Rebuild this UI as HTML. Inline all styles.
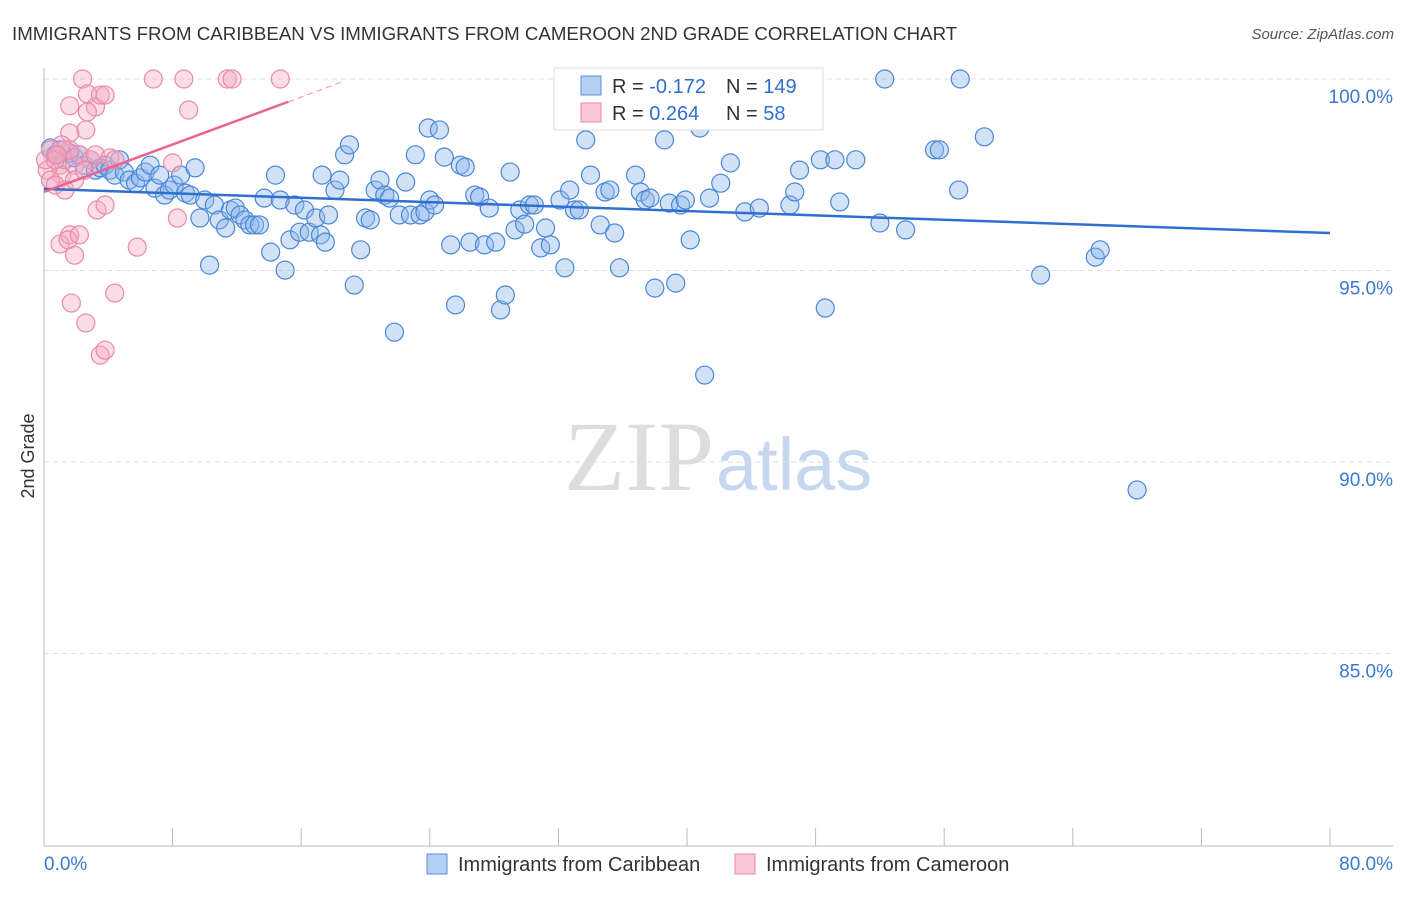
<!DOCTYPE html>
<html><head><meta charset="utf-8"><style>
body{margin:0;background:#fff;font-family:"Liberation Sans",sans-serif}
</style></head><body>
<svg id="c" width="1406" height="892" xmlns="http://www.w3.org/2000/svg" font-family="Liberation Sans, sans-serif">
<text x="12" y="40" font-size="18.7" fill="#333">IMMIGRANTS FROM CARIBBEAN VS IMMIGRANTS FROM CAMEROON 2ND GRADE CORRELATION CHART</text>
<text x="1394" y="39" font-size="15" fill="#555" text-anchor="end" font-style="italic">Source: ZipAtlas.com</text>
<text x="714" y="490" font-size="100" fill="#ddd" text-anchor="end" font-family="Liberation Serif, serif">ZIP</text>
<text x="716" y="490" font-size="74" fill="#c5d8ef">atlas</text>
<text transform="translate(34,456) rotate(-90)" font-size="18" fill="#333" text-anchor="middle">2nd Grade</text>
<g id="grid"></g><g id="axes"></g><g id="pts"></g><g id="trend"></g>
<g>
<rect x="554" y="68" width="269" height="62" fill="#fff" stroke="#ddd"/>
<rect x="581" y="76" width="20" height="19" fill="#b3cff2" stroke="#5a8fd8"/>
<rect x="581" y="103" width="20" height="19" fill="#f8c6d6" stroke="#e98aa8"/>
<text x="612" y="93" font-size="20" fill="#333">R = <tspan fill="#2f6fd0">-0.172</tspan><tspan x="726">N = </tspan><tspan fill="#2f6fd0">149</tspan></text>
<text x="612" y="120" font-size="20" fill="#333">R = <tspan fill="#2f6fd0"> 0.264</tspan><tspan x="726">N = </tspan><tspan fill="#2f6fd0">58</tspan></text>
</g>
<g>
<rect x="427" y="854" width="20" height="20" fill="#b3cff2" stroke="#5a8fd8"/>
<text x="458" y="871" font-size="20" fill="#333">Immigrants from Caribbean</text>
<rect x="735" y="854" width="20" height="20" fill="#f8c6d6" stroke="#e98aa8"/>
<text x="766" y="871" font-size="20" fill="#333">Immigrants from Cameroon</text>
</g>
</svg>
<script>
const yTicks=[100,95,90,85];
const xTickLabels=["0.0%","80.0%"];
const blueX=[0.4,0.7,1.0,1.3,1.6,1.9,2.2,2.5,2.9,3.2,3.5,3.8,4.1,4.4,4.7,5.0,5.3,5.7,6.0,6.3,6.6,6.9,7.2,7.5,7.8,8.1,8.5,8.8,9.1,9.4,9.7,10.0,10.3,10.6,10.9,11.3,11.6,11.9,12.2,12.5,12.8,13.1,13.4,13.7,14.1,14.4,14.7,15.0,15.3,15.6,15.9,16.2,16.5,16.9,17.2,17.3,17.5,17.7,18.1,18.4,18.7,19.0,19.3,19.7,20.0,20.3,20.6,20.9,21.2,21.5,21.8,22.1,22.5,22.8,23.1,23.4,23.7,23.9,24.0,24.3,24.6,24.9,25.3,25.6,25.9,26.2,26.5,26.8,27.1,27.4,27.7,28.1,28.4,28.7,29.0,29.3,29.6,29.9,30.2,30.5,30.9,31.2,31.5,32.1,32.4,32.7,33.0,33.3,33.7,34.0,34.6,34.9,35.2,35.5,35.8,36.8,37.1,37.4,37.7,38.0,38.6,38.9,39.3,39.6,39.9,40.2,40.8,41.1,41.4,42.1,42.7,43.6,44.5,46.4,46.7,47.0,48.3,48.6,49.2,49.5,50.5,52.0,52.3,53.6,55.4,55.7,57.0,56.9,58.5,62.0,65.4,65.7,68.0,45.0];
const blueY=[98.20,98.02,98.15,97.89,98.07,97.94,98.02,97.75,97.89,97.62,97.68,97.75,97.62,97.49,97.89,97.57,97.36,97.28,97.42,97.57,97.75,97.15,97.49,96.97,97.10,97.23,97.49,97.02,96.97,97.68,96.37,96.84,95.14,96.71,96.32,96.11,96.58,96.63,96.45,96.32,96.19,96.19,96.19,96.89,95.48,97.49,96.84,95.01,95.80,96.71,96.00,96.58,96.00,96.37,95.93,97.49,95.74,96.45,97.10,97.36,98.02,98.28,94.62,95.54,96.37,96.32,97.10,97.36,96.97,96.89,93.39,96.45,97.31,96.45,98.02,96.45,96.53,98.72,96.84,96.71,98.67,97.96,95.67,94.10,97.75,97.70,95.74,96.97,96.92,95.67,96.63,95.74,93.97,94.36,97.57,96.06,96.58,96.21,96.71,96.71,95.59,96.11,95.67,96.84,95.07,97.10,96.58,96.58,98.41,97.49,96.19,97.05,97.10,95.98,95.07,97.49,97.05,96.84,96.89,94.54,98.41,96.76,94.67,96.71,96.84,95.80,98.72,92.27,96.89,97.28,97.81,96.53,96.63,96.71,97.05,97.62,97.89,94.02,97.89,96.79,97.89,96.24,100.0,96.06,98.15,98.15,100.0,97.10,98.49,94.88,95.35,95.54,89.27,99.14];
const pinkX=[2.4,6.8,8.7,11.4,11.7,14.7,1.6,2.7,3.2,3.5,3.8,2.7,2.6,1.6,1.3,1.0,1.1,0.2,0.4,0.7,1.3,1.9,2.2,2.9,3.2,4.1,4.4,8.0,9.0,3.3,3.8,8.3,1.0,1.6,1.5,1.9,2.2,5.8,1.7,2.6,4.4,3.5,3.8,0.1,0.4,0.7,1.6,1.9,2.5,1.1,0.8];
const pinkY=[100,100,100,100,100,100,99.30,99.61,99.27,99.58,99.58,99.14,98.67,98.59,98.15,97.75,97.49,97.62,97.36,97.23,97.10,97.75,98.02,97.89,98.02,97.94,97.89,97.81,99.19,96.58,96.71,96.37,95.69,95.93,95.80,95.40,95.93,95.61,94.15,93.63,94.41,92.79,92.92,97.89,98.15,97.89,98.15,97.36,97.62,98.28,98.02];
const blueTrend=[97.13,-0.0144];
const pinkTrend=[97.05,0.155];
const NS="http://www.w3.org/2000/svg";
const X=v=>44+v*16.075, Y=v=>79+(100-v)*38.3;
function mk(t,a,p){const e=document.createElementNS(NS,t);for(const k in a)e.setAttribute(k,a[k]);p.appendChild(e);return e;}
const grid=document.getElementById('grid'),axes=document.getElementById('axes'),pts=document.getElementById('pts'),tr=document.getElementById('trend');
yTicks.forEach(v=>{
 const l=mk('line',{x1:44,x2:1393,y1:Y(v),y2:Y(v),stroke:'#ddd','stroke-dasharray':'5,4'},grid);
 
 
 const t=mk('text',{x:1393,y:Y(v)+24,'text-anchor':'end','font-size':19,fill:'#3a78d4'},grid);
 t.textContent=v.toFixed(1)+'%';
 
 
});
mk('line',{x1:44,x2:44,y1:68,y2:846,stroke:'#bbb'},axes);
mk('line',{x1:44,x2:1393,y1:846,y2:846,stroke:'#bbb'},axes);
for(let i=0;i<=10;i++){const l=mk('line',{x1:X(i*8),x2:X(i*8),y1:828,y2:846,stroke:'#bbb'},axes);
 
 }
const t0=mk('text',{x:44,y:870,'font-size':19,fill:'#3a78d4'},axes);t0.textContent=xTickLabels[0];


const t1=mk('text',{x:1393,y:870,'font-size':19,fill:'#3a78d4','text-anchor':'end'},axes);t1.textContent=xTickLabels[1];


blueX.forEach((x,i)=>{const c=mk('circle',{cx:X(x),cy:Y(blueY[i]),r:9,fill:'rgba(140,182,236,0.4)',stroke:'#4a86d8','stroke-width':1.2},pts);
 
 });
pinkX.forEach((x,i)=>{const c=mk('circle',{cx:X(x),cy:Y(pinkY[i]),r:9,fill:'rgba(244,170,195,0.4)',stroke:'#e98aa8','stroke-width':1.2},pts);
 
 });
const bl=mk('line',{x1:X(0),y1:Y(blueTrend[0]),x2:X(80),y2:Y(blueTrend[0]+blueTrend[1]*80),stroke:'#2f6fd0','stroke-width':2.5},tr);


const pl=mk('line',{x1:X(0),y1:Y(pinkTrend[0]),x2:X(15.2),y2:Y(pinkTrend[0]+pinkTrend[1]*15.2),stroke:'#e8648e','stroke-width':2.5},tr);


const pd=mk('line',{x1:X(15.2),y1:Y(pinkTrend[0]+pinkTrend[1]*15.2),x2:X(18.5),y2:Y(pinkTrend[0]+pinkTrend[1]*18.5),stroke:'#f0a0b8','stroke-width':1.2,'stroke-dasharray':'6,4'},tr);


</script>
</body></html>
